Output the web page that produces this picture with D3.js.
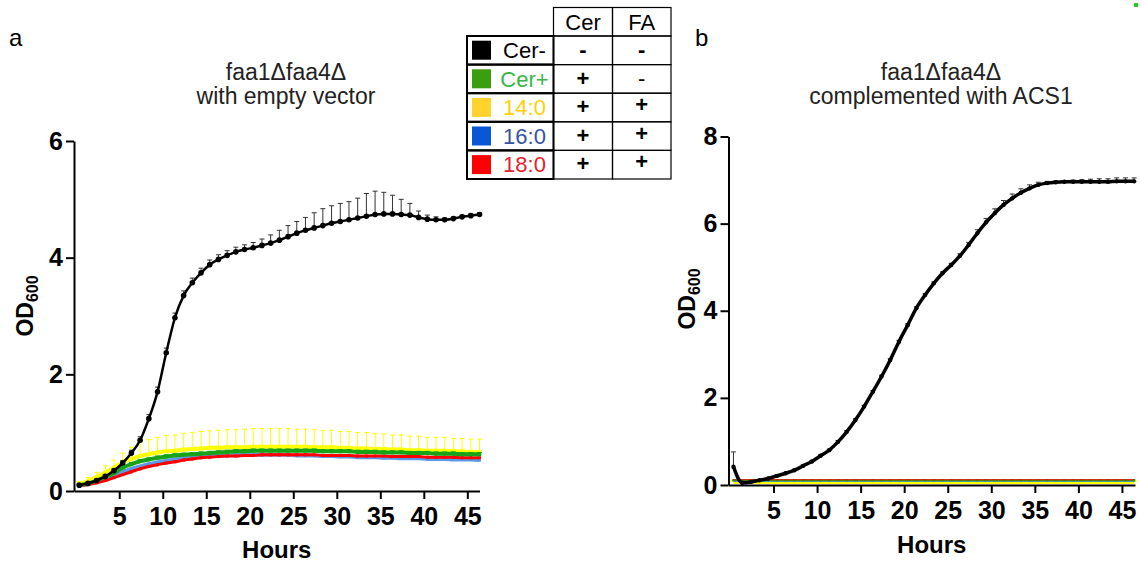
<!DOCTYPE html>
<meta charset="utf-8">
<body style="margin:0;background:#fff">
<script src="https://cdn.jsdelivr.net/npm/d3@7"></script>
<script>
var width = 1141, height = 565;
var font = '"Liberation Sans", Arial, Helvetica, sans-serif';

// sampling times (hours)
var hours = [0.4, 1.4, 2.4, 3.4, 4.4, 5.4, 6.4, 7.4, 8.4, 9.4, 10.4, 11.4, 12.4, 13.4, 14.4, 15.4,
  16.4, 17.4, 18.4, 19.4, 20.4, 21.4, 22.4, 23.4, 24.4, 25.4, 26.4, 27.4, 28.4, 29.4, 30.4, 31.4,
  32.4, 33.4, 34.4, 35.4, 36.4, 37.4, 38.4, 39.4, 40.4, 41.4, 42.4, 43.4, 44.4, 45.4, 46.4];

// panel a: faa1 faa4 with empty vector
var cerMinusA = [0.10, 0.13, 0.18, 0.25, 0.35, 0.48, 0.65, 0.87, 1.24, 1.70, 2.37, 2.97, 3.35, 3.57, 3.74, 3.88,
  3.97, 4.04, 4.10, 4.14, 4.17, 4.21, 4.25, 4.30, 4.36, 4.42, 4.47, 4.51, 4.55, 4.59, 4.62, 4.65,
  4.68, 4.71, 4.74, 4.75, 4.75, 4.74, 4.73, 4.69, 4.66, 4.65, 4.65, 4.67, 4.70, 4.72, 4.74];
var cerMinusErrA = [0.02, 0.02, 0.02, 0.03, 0.03, 0.04, 0.05, 0.06, 0.07, 0.08, 0.08, 0.08, 0.08, 0.08, 0.08, 0.08,
  0.08, 0.08, 0.08, 0.08, 0.09, 0.11, 0.14, 0.17, 0.19, 0.20, 0.22, 0.26, 0.29, 0.30, 0.31, 0.31,
  0.34, 0.39, 0.40, 0.37, 0.32, 0.26, 0.20, 0.11, 0.07, 0.05, 0.03, 0.03, 0.03, 0.03, 0.03];
var cerPlusA = [0.10, 0.13, 0.18, 0.24, 0.31, 0.40, 0.46, 0.51, 0.54, 0.57, 0.59, 0.61, 0.62, 0.63, 0.64, 0.65,
  0.66, 0.67, 0.68, 0.68, 0.69, 0.69, 0.69, 0.69, 0.69, 0.69, 0.69, 0.69, 0.68, 0.68, 0.68, 0.68,
  0.67, 0.67, 0.67, 0.66, 0.66, 0.66, 0.65, 0.65, 0.65, 0.64, 0.64, 0.64, 0.63, 0.63, 0.63];
var cerPlusErrA = [0.01, 0.01, 0.02, 0.02, 0.02, 0.03, 0.03, 0.03, 0.03, 0.03, 0.03, 0.03, 0.03, 0.03, 0.03, 0.03,
  0.03, 0.03, 0.03, 0.03, 0.03, 0.03, 0.03, 0.03, 0.03, 0.03, 0.03, 0.03, 0.03, 0.03, 0.03, 0.03,
  0.03, 0.03, 0.03, 0.03, 0.03, 0.03, 0.03, 0.03, 0.03, 0.03, 0.03, 0.03, 0.03, 0.03, 0.03];
var fa14A = [0.12, 0.17, 0.24, 0.32, 0.40, 0.49, 0.55, 0.60, 0.63, 0.66, 0.68, 0.69, 0.71, 0.72, 0.73, 0.74,
  0.74, 0.75, 0.75, 0.75, 0.76, 0.76, 0.76, 0.76, 0.76, 0.76, 0.76, 0.75, 0.75, 0.75, 0.74, 0.74,
  0.73, 0.73, 0.72, 0.72, 0.71, 0.71, 0.70, 0.70, 0.69, 0.69, 0.69, 0.68, 0.68, 0.67, 0.67];
var fa14ErrA = [0.04, 0.06, 0.08, 0.11, 0.13, 0.16, 0.20, 0.23, 0.25, 0.26, 0.27, 0.27, 0.28, 0.28, 0.29, 0.29,
  0.30, 0.30, 0.30, 0.31, 0.31, 0.31, 0.31, 0.31, 0.31, 0.30, 0.30, 0.30, 0.29, 0.29, 0.28, 0.28,
  0.27, 0.27, 0.26, 0.26, 0.25, 0.25, 0.24, 0.24, 0.23, 0.23, 0.23, 0.22, 0.22, 0.22, 0.22];
var fa16A = [0.09, 0.12, 0.16, 0.21, 0.27, 0.33, 0.38, 0.42, 0.46, 0.49, 0.52, 0.54, 0.56, 0.58, 0.59, 0.60,
  0.61, 0.61, 0.62, 0.62, 0.62, 0.62, 0.62, 0.62, 0.62, 0.61, 0.61, 0.61, 0.60, 0.60, 0.59, 0.59,
  0.58, 0.58, 0.58, 0.57, 0.57, 0.56, 0.56, 0.56, 0.55, 0.55, 0.55, 0.54, 0.54, 0.54, 0.53];
var fa18A = [0.09, 0.11, 0.14, 0.18, 0.23, 0.28, 0.33, 0.38, 0.42, 0.45, 0.48, 0.50, 0.53, 0.55, 0.57, 0.58,
  0.59, 0.60, 0.60, 0.61, 0.61, 0.62, 0.62, 0.62, 0.62, 0.62, 0.62, 0.62, 0.61, 0.61, 0.61, 0.61,
  0.60, 0.60, 0.60, 0.60, 0.59, 0.59, 0.59, 0.59, 0.58, 0.58, 0.58, 0.58, 0.57, 0.57, 0.57];

// panel b: complemented with ACS1
var cerMinusB = [0.42, 0.05, 0.07, 0.11, 0.15, 0.21, 0.27, 0.34, 0.44, 0.54, 0.67, 0.80, 0.99, 1.22, 1.49, 1.80,
  2.14, 2.49, 2.87, 3.29, 3.67, 4.06, 4.36, 4.63, 4.86, 5.05, 5.26, 5.51, 5.78, 6.03, 6.24, 6.43,
  6.58, 6.71, 6.81, 6.89, 6.93, 6.95, 6.96, 6.96, 6.96, 6.96, 6.96, 6.96, 6.97, 6.97, 6.97];
var cerMinusErrB = [0.34, 0.01, 0.01, 0.01, 0.01, 0.02, 0.02, 0.02, 0.02, 0.02, 0.02, 0.02, 0.03, 0.03, 0.03, 0.03,
  0.03, 0.03, 0.03, 0.03, 0.03, 0.03, 0.03, 0.03, 0.03, 0.04, 0.05, 0.06, 0.08, 0.09, 0.10, 0.10,
  0.10, 0.09, 0.08, 0.06, 0.04, 0.03, 0.03, 0.04, 0.05, 0.06, 0.07, 0.07, 0.08, 0.08, 0.08];
var cerPlusB = [0.11, 0.11, 0.11, 0.11, 0.11, 0.11, 0.11, 0.11, 0.11, 0.11, 0.11, 0.11, 0.11, 0.11, 0.11, 0.11,
  0.11, 0.11, 0.11, 0.11, 0.11, 0.11, 0.11, 0.11, 0.11, 0.11, 0.11, 0.11, 0.11, 0.11, 0.11, 0.11,
  0.11, 0.11, 0.11, 0.11, 0.11, 0.11, 0.11, 0.11, 0.11, 0.11, 0.11, 0.11, 0.11, 0.11, 0.11];
var fa14B = [0.06, 0.06, 0.06, 0.06, 0.06, 0.06, 0.06, 0.06, 0.06, 0.06, 0.06, 0.06, 0.06, 0.06, 0.06, 0.06,
  0.06, 0.06, 0.06, 0.06, 0.06, 0.06, 0.06, 0.06, 0.06, 0.06, 0.06, 0.06, 0.06, 0.06, 0.06, 0.06,
  0.06, 0.06, 0.06, 0.06, 0.06, 0.06, 0.06, 0.06, 0.06, 0.06, 0.06, 0.06, 0.06, 0.06, 0.06];
var fa14ErrB = [0.04, 0.04, 0.04, 0.04, 0.04, 0.04, 0.04, 0.04, 0.04, 0.04, 0.04, 0.04, 0.04, 0.04, 0.04, 0.04,
  0.04, 0.04, 0.04, 0.04, 0.04, 0.04, 0.04, 0.04, 0.04, 0.04, 0.04, 0.04, 0.04, 0.04, 0.04, 0.04,
  0.04, 0.04, 0.04, 0.04, 0.04, 0.04, 0.04, 0.04, 0.04, 0.04, 0.04, 0.04, 0.04, 0.04, 0.04];
var fa16B = [0.09, 0.09, 0.09, 0.09, 0.09, 0.09, 0.09, 0.09, 0.09, 0.09, 0.09, 0.09, 0.09, 0.09, 0.09, 0.09,
  0.09, 0.09, 0.09, 0.09, 0.09, 0.09, 0.09, 0.09, 0.09, 0.09, 0.09, 0.09, 0.09, 0.09, 0.09, 0.09,
  0.09, 0.09, 0.09, 0.09, 0.09, 0.09, 0.09, 0.09, 0.09, 0.09, 0.09, 0.09, 0.09, 0.09, 0.09];
var fa18B = [0.12, 0.12, 0.12, 0.12, 0.12, 0.12, 0.12, 0.12, 0.12, 0.12, 0.12, 0.12, 0.12, 0.12, 0.12, 0.12,
  0.12, 0.12, 0.12, 0.12, 0.12, 0.12, 0.12, 0.12, 0.12, 0.12, 0.12, 0.12, 0.12, 0.12, 0.12, 0.12,
  0.12, 0.12, 0.12, 0.12, 0.12, 0.12, 0.12, 0.12, 0.12, 0.12, 0.12, 0.12, 0.12, 0.12, 0.12];

var xTicks = [5, 10, 15, 20, 25, 30, 35, 40, 45];
var yTicksA = [0, 2, 4, 6];
var yTicksB = [0, 2, 4, 6, 8];

// legend table
var legendLabels = ['Cer-', 'Cer+', '14:0', '16:0', '18:0'];
var legendCer = ['-', '+', '+', '+', '+'];
var legendFA = ['-', '-', '+', '+', '+'];

var colors = {
  black: '#000000', green: '#17a317', yellow: '#ffff00', blue: '#5b9ae8', red: '#ff0000'
};
var swatch = ['#000000', '#3a9e0f', '#ffd22e', '#0a57d6', '#ff0000'];
var labelColor = ['#000000', '#38b649', '#ffd000', '#3652a3', '#e8222b'];

var svg = d3.select('body').append('svg')
    .attr('width', width)
    .attr('height', height)
    .style('font-family', font);

function drawPanel(p) {
  var x = d3.scaleLinear().domain(p.xDomain).range(p.xRange);
  var y = d3.scaleLinear().domain(p.yDomain).range(p.yRange);
  var g = svg.append('g');

  var line = d3.line()
      .x(function(d) { return x(d[0]); })
      .y(function(d) { return y(d[1]); })
      .curve(d3.curveMonotoneX);

  p.series.forEach(function(s) {
    var pts = hours.map(function(h, i) { return [h, s.values[i], s.err ? s.err[i] : 0]; });

    if (s.err) {
      var eb = g.append('g').attr('stroke', s.errColor).attr('stroke-width', s.errWidth || 1);
      eb.selectAll('line.v').data(pts).enter().append('line')
          .attr('x1', function(d) { return x(d[0]); })
          .attr('x2', function(d) { return x(d[0]); })
          .attr('y1', function(d) { return y(d[1]); })
          .attr('y2', function(d) { return y(d[1] + d[2]); });
      eb.selectAll('line.c').data(pts).enter().append('line')
          .attr('x1', function(d) { return x(d[0]) - 2.5; })
          .attr('x2', function(d) { return x(d[0]) + 2.5; })
          .attr('y1', function(d) { return y(d[1] + d[2]); })
          .attr('y2', function(d) { return y(d[1] + d[2]); });
    }

    g.append('path')
        .datum(pts)
        .attr('fill', 'none')
        .attr('stroke', s.color)
        .attr('stroke-width', s.lineWidth)
        .attr('d', line);

    if (s.marker === 'circle') {
      g.append('g').selectAll('circle').data(pts).enter().append('circle')
          .attr('cx', function(d) { return x(d[0]); })
          .attr('cy', function(d) { return y(d[1]); })
          .attr('r', s.size)
          .attr('fill', s.color);
    } else if (s.marker === 'square') {
      g.append('g').selectAll('rect').data(pts).enter().append('rect')
          .attr('x', function(d) { return x(d[0]) - s.size; })
          .attr('y', function(d) { return y(d[1]) - s.size; })
          .attr('width', s.size * 2)
          .attr('height', s.size * 2)
          .attr('fill', s.color);
    }
  });

  var xAxis = g.append('g')
      .attr('transform', 'translate(0,' + p.yRange[0] + ')')
      .call(d3.axisBottom(x).tickValues(xTicks).tickFormat(d3.format('d'))
        .tickSize(8).tickSizeOuter(0).tickPadding(8));
  var yAxis = g.append('g')
      .attr('transform', 'translate(' + p.xRange[0] + ',0)')
      .call(d3.axisLeft(y).tickValues(p.yTicks).tickFormat(d3.format('d'))
        .tickSize(8).tickSizeOuter(0).tickPadding(3));

  [xAxis, yAxis].forEach(function(a) {
    a.select('.domain').attr('stroke', '#000').attr('stroke-width', 2);
    a.selectAll('.tick line').attr('stroke', '#000').attr('stroke-width', 2);
    a.selectAll('.tick text')
        .attr('fill', '#000')
        .style('font-family', font)
        .style('font-size', '25px')
        .style('font-weight', 'bold');
  });

  g.append('text')
      .attr('x', (p.xRange[0] + p.xRange[1]) / 2)
      .attr('y', p.hoursY)
      .attr('text-anchor', 'middle')
      .style('font-size', '24px')
      .style('font-weight', 'bold')
      .text('Hours');

  var od = g.append('text')
      .attr('transform', 'translate(' + p.odX + ',' + p.odY + ') rotate(-90)')
      .attr('text-anchor', 'middle')
      .style('font-size', '23px')
      .style('font-weight', 'bold');
  od.append('tspan').text('OD');
  od.append('tspan').attr('dy', 5).style('font-size', '16px').text('600');

  g.append('text')
      .attr('x', p.titleX).attr('y', 80)
      .attr('text-anchor', 'middle')
      .style('font-size', '23px')
      .attr('fill', '#222')
      .text('faa1\u0394faa4\u0394');
  g.append('text')
      .attr('x', p.titleX).attr('y', 104)
      .attr('text-anchor', 'middle')
      .style('font-size', '23px')
      .attr('fill', '#222')
      .text(p.subtitle);

  g.append('text')
      .attr('x', p.letterX).attr('y', 46)
      .style('font-size', '24px')
      .text(p.letter);
}

drawPanel({
  xDomain: [-0.2, 46.4], xRange: [74, 479.5],
  yDomain: [0, 6], yRange: [491, 141], yTicks: yTicksA,
  hoursY: 558, odX: 33, odY: 306, titleX: 286, subtitle: 'with empty vector',
  letter: 'a', letterX: 9,
  series: [
    { values: fa14A, err: fa14ErrA, color: colors.yellow, errColor: colors.yellow, lineWidth: 4, marker: 'square', size: 1.8 },
    { values: fa16A, color: colors.blue, lineWidth: 4, marker: 'square', size: 1.5 },
    { values: fa18A, color: colors.red, lineWidth: 3, marker: 'square', size: 1.5 },
    { values: cerPlusA, err: cerPlusErrA, color: colors.green, errColor: colors.green, lineWidth: 4, marker: 'square', size: 1.8 },
    { values: cerMinusA, err: cerMinusErrA, color: colors.black, errColor: '#333', lineWidth: 2.5, marker: 'circle', size: 2.8 }
  ]
});

drawPanel({
  xDomain: [-0.17, 46.5], xRange: [728.5, 1135],
  yDomain: [0, 8], yRange: [485, 136.5], yTicks: yTicksB,
  hoursY: 553, odX: 695, odY: 299, titleX: 941, subtitle: 'complemented with ACS1',
  letter: 'b', letterX: 695,
  series: [
    { values: fa14B, err: fa14ErrB, color: colors.yellow, errColor: colors.yellow, lineWidth: 3, errWidth: 2 },
    { values: fa16B, color: colors.blue, lineWidth: 2 },
    { values: cerPlusB, color: colors.green, lineWidth: 2, marker: 'square', size: 1.2 },
    { values: fa18B, color: colors.red, lineWidth: 1 },
    { values: cerMinusB, err: cerMinusErrB, color: colors.black, errColor: '#333', lineWidth: 3.5, marker: 'circle', size: 2.2 }
  ]
});

// legend table
var leg = svg.append('g');
var rowTop = 36, rowH = 28.6;
var colX = [467, 553.5, 612.5, 671];

[1, 2].forEach(function(c) {
  leg.append('rect')
      .attr('x', colX[c]).attr('y', 7.5)
      .attr('width', colX[c + 1] - colX[c]).attr('height', rowTop - 7.5)
      .attr('fill', 'none').attr('stroke', '#000').attr('stroke-width', 1.2);
});
leg.append('text').attr('x', (colX[1] + colX[2]) / 2).attr('y', 29.5)
    .attr('text-anchor', 'middle').style('font-size', '22px').text('Cer');
leg.append('text').attr('x', (colX[2] + colX[3]) / 2).attr('y', 29.5)
    .attr('text-anchor', 'middle').style('font-size', '22px').text('FA');

legendLabels.forEach(function(lab, i) {
  var top = rowTop + i * rowH;
  leg.append('rect')
      .attr('x', colX[0]).attr('y', top)
      .attr('width', colX[1] - colX[0]).attr('height', rowH)
      .attr('fill', 'none').attr('stroke', '#000').attr('stroke-width', 2);
  [1, 2].forEach(function(c) {
    leg.append('rect')
        .attr('x', colX[c]).attr('y', top)
        .attr('width', colX[c + 1] - colX[c]).attr('height', rowH)
        .attr('fill', 'none').attr('stroke', '#000').attr('stroke-width', 1.2);
  });
  leg.append('rect')
      .attr('x', 472).attr('y', top + 4.7)
      .attr('width', 19).attr('height', 19)
      .attr('fill', swatch[i]);
  leg.append('text')
      .attr('x', 524.5).attr('y', top + 22)
      .attr('text-anchor', 'middle')
      .attr('fill', labelColor[i])
      .style('font-size', '22px')
      .text(lab);
  leg.append('text')
      .attr('x', (colX[1] + colX[2]) / 2).attr('y', top + 21)
      .attr('text-anchor', 'middle')
      .style('font-size', '22px').style('font-weight', 'bold')
      .text(legendCer[i]);
  leg.append('text')
      .attr('x', (colX[2] + colX[3]) / 2).attr('y', top + (legendFA[i] === '+' ? 19 : 21))
      .attr('text-anchor', 'middle')
      .style('font-size', '22px').style('font-weight', i === 1 ? 'normal' : 'bold')
      .text(legendFA[i]);
});

// stray mark in the top-right corner of the figure
svg.append('rect').attr('x', 1134).attr('y', 3).attr('width', 4).attr('height', 4).attr('fill', '#22cc22');
</script>
</body>
